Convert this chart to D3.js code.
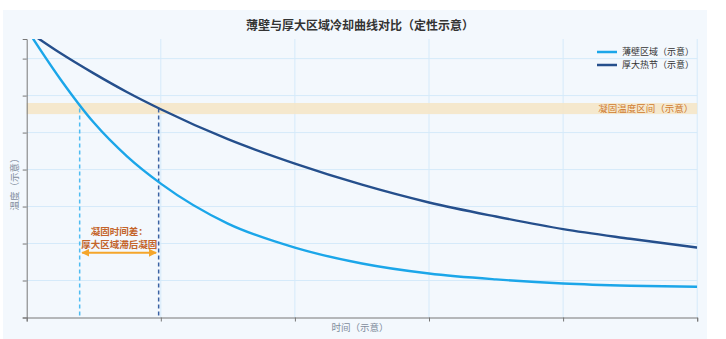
<html>
<head>
<meta charset="utf-8">
<script src="https://d3js.org/d3.v7.min.js"></script>
<style>
  body { margin: 0; background: white; }
  svg { display: block; font-family: "Noto Sans CJK SC", "Noto Sans", sans-serif; }
</style>
</head>
<body>
<svg width="726" height="339"></svg>
<script>
  // time samples (schematic units) and read-off temperatures
  var times = [0, 0.25, 0.5, 0.75, 1, 1.5, 2, 2.5, 3, 3.5, 4, 4.5, 5];
  var thinWall = [7.8, 6.45, 5.27, 4.35, 3.62, 2.54, 1.89, 1.46, 1.19, 1.03, 0.92, 0.86, 0.83];
  var thickNode = [7.76, 7.15, 6.6, 6.09, 5.63, 4.82, 4.16, 3.59, 3.11, 2.73, 2.39, 2.13, 1.89];
  var seriesNames = ["薄壁区域（示意）", "厚大热节（示意）"];
  var seriesColors = ["#1ba6e9", "#254f8c"];
  var band = [5.5, 5.8];
  var solidifyTimes = [0.395, 0.984];
  var xTicks = [0, 1, 2, 3, 4, 5];
  var yTicks = [0, 1, 2, 3, 4, 5, 6, 7];

  var svg = d3.select("svg");
  var pLeft = 26.7, pRight = 697.2, pTop = 39, pBottom = 317.5;
  var x = d3.scaleLinear().domain([0, 5]).range([pLeft, pRight]);
  var y = d3.scaleLinear().domain([0, 7.53]).range([pBottom, pTop]);

  svg.append("rect").attr("x", 3).attr("y", 10).attr("width", 704).attr("height", 329)
    .attr("fill", "#f3f8fd");

  var defs = svg.append("defs");
  defs.append("clipPath").attr("id", "plot")
    .append("rect").attr("x", pLeft).attr("y", pTop).attr("width", pRight - pLeft).attr("height", pBottom - pTop);

  // grid
  svg.append("g").selectAll("line").data(yTicks.slice(1)).enter().append("line")
    .attr("x1", pLeft).attr("x2", pRight).attr("y1", d => y(d)).attr("y2", d => y(d))
    .attr("stroke", "#d5eafa").attr("stroke-width", 1);
  svg.append("g").selectAll("line").data(xTicks.slice(1)).enter().append("line")
    .attr("y1", pTop).attr("y2", pBottom).attr("x1", d => x(d)).attr("x2", d => x(d))
    .attr("stroke", "#d5eafa").attr("stroke-width", 1);

  // solidification band
  svg.append("rect").attr("x", pLeft).attr("width", pRight - pLeft)
    .attr("y", y(band[1])).attr("height", y(band[0]) - y(band[1]))
    .attr("fill", "#f5e5c8").attr("opacity", 0.9);
  svg.append("text").attr("x", pRight - 4).attr("y", y((band[0] + band[1]) / 2)).attr("dy", "0.35em")
    .attr("text-anchor", "end").attr("font-size", 9.5).attr("fill", "#cf7a2e")
    .text("凝固温度区间（示意）");

  // axes
  svg.append("g").attr("transform", "translate(0," + pBottom + ")")
    .call(d3.axisBottom(x).tickValues(xTicks).tickSize(4).tickFormat(""))
    .call(g => g.selectAll("path,line").attr("stroke", "#777"));
  svg.append("g").attr("transform", "translate(" + pLeft + ",0)")
    .call(d3.axisLeft(y).tickValues(yTicks).tickSize(4).tickFormat(""))
    .call(g => g.selectAll("path,line").attr("stroke", "#777"));

  // dashed solidification markers
  var bandMid = (band[0] + band[1]) / 2;
  svg.append("g").selectAll("line").data(solidifyTimes).enter().append("line")
    .attr("x1", d => x(d)).attr("x2", d => x(d)).attr("y1", y(bandMid)).attr("y2", pBottom)
    .attr("stroke", (d, i) => i == 0 ? "#4fbcf2" : "#3a62a3")
    .attr("stroke-width", 1.5).attr("stroke-dasharray", "4,3");

  // curves
  var line = d3.line().x(d => x(d[0])).y(d => y(d[1])).curve(d3.curveMonotoneX);
  [thinWall, thickNode].forEach(function(vals, i) {
    svg.append("path").datum(times.map((t, j) => [t, vals[j]]))
      .attr("clip-path", "url(#plot)")
      .attr("d", line).attr("fill", "none")
      .attr("stroke", seriesColors[i]).attr("stroke-width", 2.4);
  });

  // lag arrow
  defs.append("marker").attr("id", "ah").attr("viewBox", "0 0 10 10").attr("refX", 9).attr("refY", 5)
    .attr("markerWidth", 4).attr("markerHeight", 4).attr("orient", "auto-start-reverse")
    .append("path").attr("d", "M0,0 L10,5 L0,10 z").attr("fill", "#f5a62b");
  svg.append("line").attr("x1", x(solidifyTimes[0]) + 2.5).attr("x2", x(solidifyTimes[1]) - 2.5)
    .attr("y1", 252.7).attr("y2", 252.7)
    .attr("stroke", "#f5a62b").attr("stroke-width", 2)
    .attr("marker-start", "url(#ah)").attr("marker-end", "url(#ah)");
  var midX = (x(solidifyTimes[0]) + x(solidifyTimes[1])) / 2;
  svg.append("text").attr("x", midX).attr("y", 235).attr("text-anchor", "middle")
    .attr("font-size", 9.5).attr("font-weight", "bold").attr("fill", "#c4642a").text("凝固时间差：");
  svg.append("text").attr("x", midX).attr("y", 247.5).attr("text-anchor", "middle")
    .attr("font-size", 9.5).attr("font-weight", "bold").attr("fill", "#c4642a").text("厚大区域滞后凝固");

  // legend
  seriesNames.forEach(function(name, i) {
    var ly = 52 + i * 13;
    svg.append("line").attr("x1", 597).attr("x2", 617).attr("y1", ly).attr("y2", ly)
      .attr("stroke", seriesColors[i]).attr("stroke-width", 2.5);
    svg.append("text").attr("x", 622).attr("y", ly).attr("dy", "0.35em")
      .attr("font-size", 9).attr("fill", "#333").text(name);
  });

  // titles
  svg.append("text").attr("x", 360).attr("y", 26).attr("dy", "0.35em").attr("text-anchor", "middle")
    .attr("font-size", 12).attr("font-weight", "bold").attr("fill", "#333")
    .text("薄壁与厚大区域冷却曲线对比（定性示意）");
  svg.append("text").attr("x", 360).attr("y", 328).attr("dy", "0.35em").attr("text-anchor", "middle")
    .attr("font-size", 9.5).attr("fill", "#7f8c9c").text("时间（示意）");
  svg.append("text").attr("transform", "translate(15,182) rotate(-90)").attr("dy", "0.35em")
    .attr("text-anchor", "middle").attr("font-size", 9.5).attr("fill", "#7f8c9c").text("温度（示意）");
</script>
</body>
</html>
